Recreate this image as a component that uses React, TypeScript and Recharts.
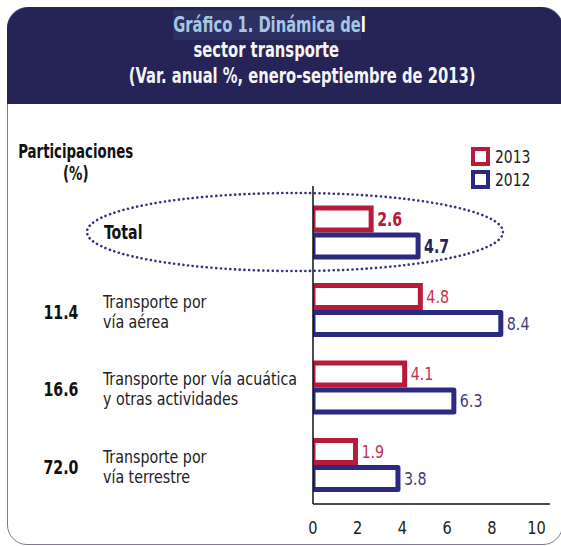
import React from 'react';
import { BarChart, Bar, XAxis, YAxis, Legend, LabelList } from 'recharts';

const FONT = '"DejaVu Sans Condensed", "DejaVu Sans", sans-serif';

const categories = ['Total', 'Transporte por vía aérea', 'Transporte por vía acuática y otras actividades', 'Transporte por vía terrestre'];
const categoryLines = [['Total'], ['Transporte por', 'vía aérea'], ['Transporte por vía acuática', 'y otras actividades'], ['Transporte por', 'vía terrestre']];
const participaciones = ['', '11.4', '16.6', '72.0'];
const var2013 = [2.6, 4.8, 4.1, 1.9];
const var2012 = [4.7, 8.4, 6.3, 3.8];
const xTicks = [0, 2, 4, 6, 8, 10];
const legendOrder = ['2013', '2012'];

const RED = '#b71a3b';
const BLUE = '#2c2a80';
const NAVY = '#262456';

const data = categories.map((name, i) => ({
    name,
    v2013: var2013[i],
    v2012: var2012[i],
}));

// narrow text: the source font is a condensed one
const Narrow = ({ x, y, s, children, ...rest }: any) => (
    <g transform={`translate(${x},${y}) scale(${s},1)`}>
        <text x={0} y={0} dominantBaseline="central" fontFamily={FONT} {...rest}>
            {children}
        </text>
    </g>
);

// left side: participation share + category text
const CategoryTick = ({ x, y, payload }: any) => {
    const i = payload.index;
    const lines = categoryLines[i];
    if (i === 0) {
        return (
            <Narrow x={x - 209} y={y} s={0.83} fontSize={19} fontWeight="bold" fill="#111">
                Total
            </Narrow>
        );
    }
    return (
        <g>
            <Narrow x={x - 252} y={y + 2} s={0.83} textAnchor="middle" fontSize={19} fontWeight="bold" fill="#111">
                {participaciones[i]}
            </Narrow>
            {lines.map((l, k) => (
                <Narrow key={k} x={x - 210} y={y - 9 + k * 20} s={0.88} fontSize={18} fill="#222">
                    {l}
                </Narrow>
            ))}
        </g>
    );
};

const ValueTick = ({ x, y, payload }: any) => (
    <Narrow x={x} y={y + 16} s={0.9} textAnchor="middle" fontSize={18} fill="#222">
        {payload.value}
    </Narrow>
);

const makeLabel = (color: string, boldColor: string) => (props: any) => {
    const vb = props.viewBox || props;
    const { x, y, width, height } = vb;
    const total = props.index === 0;
    return (
        <Narrow
            x={x + width + 6}
            y={y + height / 2}
            s={total ? 0.83 : 0.88}
            fontSize={total ? 19 : 18}
            fontWeight={total ? 'bold' : 'normal'}
            fill={total ? boldColor : color}
        >
            {Number(props.value).toFixed(1)}
        </Narrow>
    );
};

const LEGEND_COLORS: Record<string, string> = { '2013': RED, '2012': BLUE };

const renderLegend = ({ payload }: any) => {
    const items = [...(payload || [])].sort((a: any, b: any) => legendOrder.indexOf(a.value) - legendOrder.indexOf(b.value));
    return (
        <div>
            {items.map((p: any) => (
                <div key={p.value} style={{ display: 'flex', alignItems: 'center', height: 23 }}>
                    <div style={{ width: 11, height: 11, border: `4.5px solid ${LEGEND_COLORS[p.value]}`, background: '#fff' }} />
                    <span style={{ marginLeft: 5, fontFamily: FONT, fontSize: 18, color: '#222', display: 'inline-block', transform: 'scaleX(0.86)', transformOrigin: 'left center' }}>{p.value}</span>
                </div>
            ))}
        </div>
    );
};

const titleLine = (center: number, top: number, content: React.ReactNode) => (
    <div style={{ position: 'absolute', left: center - 300, top, width: 600, textAlign: 'center', fontFamily: FONT, fontWeight: 'bold', fontSize: 21, lineHeight: '28px', color: '#f4f4f4' }}>
        <span style={{ display: 'inline-block', transform: 'scaleX(0.78)' }}>{content}</span>
    </div>
);

const App: React.FC = () => {
    return (
        <div style={{ position: 'absolute', left: 0, top: 0, width: 561, height: 546, background: '#fff', overflow: 'hidden' }}>
            {/* frame */}
            <div style={{ position: 'absolute', left: 7, top: 7, width: 556, height: 538, border: '1.5px solid #7d7b9e', borderRadius: 20, boxSizing: 'border-box' }} />
            {/* header band */}
            <div style={{ position: 'absolute', left: 7, top: 7, width: 556, height: 97, background: NAVY, borderTopLeftRadius: 22, borderTopRightRadius: 22 }} />
            {titleLine(270, 11, (
                <>
                    <span style={{ background: '#2d3062', color: '#a6c6e4', padding: '3px 0' }}>Gráfico 1. Dinámica de</span>
                    <span style={{ color: '#fff' }}>l</span>
                </>
            ))}
            {titleLine(266, 36, 'sector transporte')}
            {titleLine(302, 62, '(Var. anual %, enero-septiembre de 2013)')}
            {/* participation header */}
            <div style={{ position: 'absolute', left: 0, top: 140, width: 152, textAlign: 'center', fontFamily: FONT, fontWeight: 'bold', fontSize: 19, lineHeight: '22px', color: '#111' }}>
                <span style={{ display: 'inline-block', transform: 'scaleX(0.78)' }}>
                    Participaciones
                    <br />
                    (%)
                </span>
            </div>

            <div style={{ position: 'absolute', left: 0, top: 0 }}>
                <BarChart width={561} height={546} data={data} layout="vertical" margin={{ top: 186, right: 11, bottom: 12, left: 0 }} barSize={22} barGap={5}>
                    <XAxis
                        type="number"
                        domain={[0, 10.6]}
                        ticks={xTicks}
                        height={30}
                        tickLine={false}
                        axisLine={{ stroke: '#111', strokeWidth: 1.5 }}
                        tick={<ValueTick />}
                        allowDataOverflow
                    />
                    <YAxis
                        type="category"
                        dataKey="name"
                        width={313}
                        padding={{ top: 8, bottom: 0 }}
                        tickLine={false}
                        tickSize={0}
                        tickMargin={0}
                        axisLine={{ stroke: '#111', strokeWidth: 1.5 }}
                        tick={<CategoryTick />}
                        interval={0}
                    />
                    <Legend
                        content={renderLegend}
                        layout="vertical"
                        align="center"
                        verticalAlign="middle"
                        wrapperStyle={{ position: 'absolute', left: 471, top: 145, width: 80 }}
                    />
                    <Bar dataKey="v2013" name="2013" fill="#fff" stroke={RED} strokeWidth={5} isAnimationActive={false}>
                        <LabelList dataKey="v2013" content={makeLabel('#c2344e', RED)} />
                    </Bar>
                    <Bar dataKey="v2012" name="2012" fill="#fff" stroke={BLUE} strokeWidth={5} strokeLinejoin="round" isAnimationActive={false}>
                        <LabelList dataKey="v2012" content={makeLabel('#3f3d75', '#252457')} />
                    </Bar>
                </BarChart>
            </div>

            {/* dotted ellipse around Total */}
            <svg width={561} height={546} style={{ position: 'absolute', left: 0, top: 0, pointerEvents: 'none' }}>
                <ellipse cx={295} cy={232} rx={208} ry={39} fill="none" stroke="#35357f" strokeWidth={2.6} strokeDasharray="0.1 4.6" strokeLinecap="round" />
            </svg>
        </div>
    );
};

export default App;
